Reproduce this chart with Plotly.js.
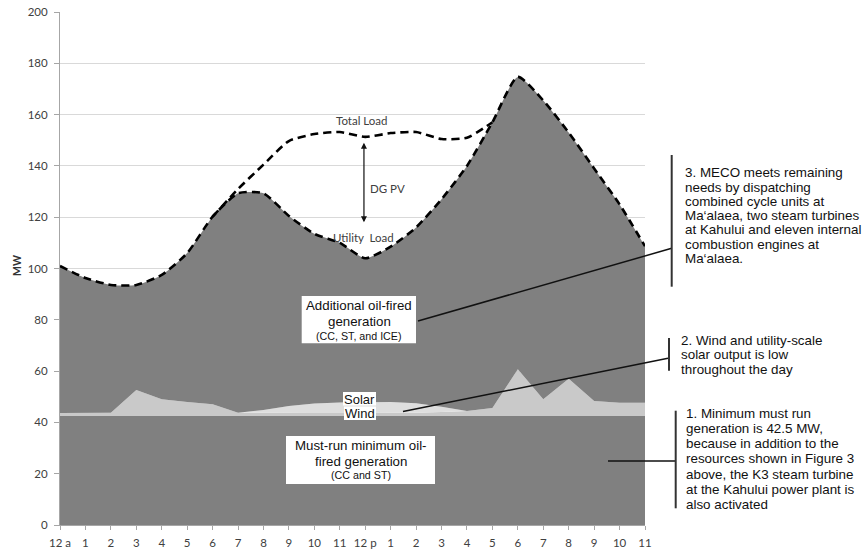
<!DOCTYPE html>
<html>
<head>
<meta charset="utf-8">
<script src="https://cdn.plot.ly/plotly-3.0.1.min.js"></script>
<style>html,body{margin:0;padding:0;background:#fff;}#chart{width:862px;height:550px;}</style>
</head>
<body>
<div id="chart"></div>
<script>
// ---- data ----
const hours = ['12 a','1','2','3','4','5','6','7','8','9','10','11','12 p','1','2','3','4','5','6','7','8','9','10','11'];
const utilityLoad = [101,96.3,93.6,93.6,97.5,106,120.2,129.3,129.3,120.5,113.5,110,104,108.5,116,127,140,157,174.7,165.5,153,139,125,108.7];
const totalLoad = [null,null,null,null,null,null,120.2,131,140.5,149.7,152.4,153.2,151.3,152.8,153.2,150.5,151,157,null,null,null,null,null,null];
const mustRun = [42.5,42.5,42.5,42.5,42.5,42.5,42.5,42.5,42.5,42.5,42.5,42.5,42.5,42.5,42.5,42.5,42.5,42.5,42.5,42.5,42.5,42.5,42.5,42.5];
const wind = [1.2,1.2,1.3,10.1,6.5,5.5,4.6,1.3,1.2,1.2,1.2,1.2,1.2,1.2,1.3,1.6,1.9,3.1,18.2,6.5,14.5,5.8,5.2,5.2];
const solar = [0,0,0,0,0,0,0,0,1.1,2.7,3.7,4.1,4.3,4.3,3.7,2,0,0,0,0,0,0,0,0];
const note3Lines = ['3. MECO meets remaining','needs by dispatching','combined cycle units at','Ma\u2018alaea, two steam turbines','at Kahului and eleven internal','combustion engines at','Ma\u2018alaea.'];
const note2Lines = ['2. Wind and utility-scale','solar output is low','throughout the day'];
const note1Lines = ['1. Minimum must run','generation is 42.5 MW,','because in addition to the','resources shown in Figure 3','above, the K3 steam turbine','at the Kahului power plant is','also activated'];
const addLines = ['Additional oil-fired','generation','(CC, ST, and ICE)'];
const mustLines = ['Must-run minimum oil-','fired generation','(CC and ST)'];

// ---- derived ----
const xIdx = hours.map((h,i)=>i);
const additional = utilityLoad.map((u,i)=>u - mustRun[i] - wind[i] - solar[i]);

// pixel helpers (plot area: x 60..645, y 12..525)
const L=60, R=645, T=12, B=525;
const px = x => (x-L)/(R-L);
const py = y => (B-y)/(B-T);

const DARK='#808080';
const traces = [
  {x:xIdx,y:mustRun,type:'scatter',mode:'lines',stackgroup:'s',line:{width:0},fillcolor:DARK,hoverinfo:'skip'},
  {x:xIdx,y:wind,type:'scatter',mode:'lines',stackgroup:'s',line:{width:0},fillcolor:'#c9c9c9',hoverinfo:'skip'},
  {x:xIdx,y:solar,type:'scatter',mode:'lines',stackgroup:'s',line:{width:0},fillcolor:'#dedede',hoverinfo:'skip'},
  {x:xIdx,y:additional,type:'scatter',mode:'lines',stackgroup:'s',line:{width:0,shape:'spline',smoothing:0.6},fillcolor:DARK,hoverinfo:'skip'},
  {x:xIdx,y:utilityLoad,type:'scatter',mode:'lines',line:{color:'#000',width:2.6,dash:'8px,5px',shape:'spline',smoothing:0.6}},
  {x:xIdx,y:totalLoad,type:'scatter',mode:'lines',line:{color:'#000',width:2.6,dash:'8px,5px',shape:'spline',smoothing:0.6}}
];

const shapes = [];
function rect(x0,y0,x1,y1){shapes.push({type:'rect',xref:'paper',yref:'paper',x0:px(x0),x1:px(x1),y0:py(y1),y1:py(y0),fillcolor:'#fff',line:{width:0},layer:'above'});}
function seg(x0,y0,x1,y1,c,w){shapes.push({type:'line',xref:'paper',yref:'paper',x0:px(x0),x1:px(x1),y0:py(y0),y1:py(y1),line:{color:c,width:w},layer:'above'});}
rect(301.7,296,416,343.3);
rect(286,436,435,484);
rect(343,392,376,405.5);
rect(344,406.5,376,420);
seg(418,321,671.7,248.3,'#111',1.5);
seg(403,411.5,668,358.3,'#111',1.5);
seg(608,461,675,461,'#111',1.5);
seg(671.7,155,671.7,286.7,'#333',2);
seg(669,338,669,370.7,'#333',2);
seg(675.7,410.7,675.7,508.3,'#333',2);

const ARIAL='Liberation Sans, Arial, sans-serif';
const CAL='Lato, Carlito, Calibri, sans-serif';
const annotations = [];
function txt(t,x,y,size,opts){
  annotations.push(Object.assign({text:t,xref:'paper',yref:'paper',x:px(x),y:py(y),showarrow:false,
    xanchor:'center',yanchor:'middle',font:{family:ARIAL,size:size,color:'#111'}},opts||{}));
}
note3Lines.forEach((t,i)=>txt(t,683.3,172.7+i*14.3,13.4,{xanchor:'left'}));
note2Lines.forEach((t,i)=>txt(t,679.3,340+i*14.7,13.4,{xanchor:'left'}));
note1Lines.forEach((t,i)=>txt(t,684,413.3+i*15.2,13.4,{xanchor:'left'}));
txt(addLines[0],359,305,13.3);
txt(addLines[1],359,321.7,13.3);
txt(addLines[2],359,335.7,10.7);
txt(mustLines[0],360.5,445.7,13.3);
txt(mustLines[1],360.5,461,13.3);
txt(mustLines[2],360.5,475,10.7);
txt('Solar',359.5,399,13);
txt('Wind',360,413,13);
// in-plot labels
txt('Total Load',361.7,120,11.5,{font:{family:CAL,size:11.5,color:'#404040'}});
txt('DG PV',387,188,11.5,{font:{family:CAL,size:11.5,color:'#404040'}});
txt('Utility\u00a0 Load',363,237,11.5,{font:{family:CAL,size:11.5,color:'#404040'}});
txt('MW',17,266,10.5,{textangle:-90,font:{family:CAL,size:10.5,color:'#333',weight:'bold'}});
// DG PV double arrow
annotations.push({x:11.95,y:149,ax:11.95,ay:117.4,xref:'x',yref:'y',axref:'x',ayref:'y',text:'',showarrow:true,
  arrowhead:2,startarrowhead:2,arrowside:'end+start',arrowsize:1,startarrowsize:1,arrowwidth:1.2,arrowcolor:'#111'});

const layout = {
  width:862,height:550,
  margin:{l:L,r:862-R,t:T,b:550-B,pad:0},
  paper_bgcolor:'#fff',plot_bgcolor:'#fff',
  showlegend:false,
  xaxis:{range:[0,23],tickvals:xIdx,ticktext:hours,showgrid:false,zeroline:false,
    showline:true,linecolor:'#a6a6a6',linewidth:1,ticks:'outside',ticklen:4,tickcolor:'#a6a6a6',
    tickfont:{family:CAL,size:11.5,color:'#404040'},ticklabelstandoff:3},
  yaxis:{range:[0,200],tickvals:[0,20,40,60,80,100,120,140,160,180,200],showgrid:true,gridcolor:'#d9d9d9',gridwidth:1,
    zeroline:false,showline:true,linecolor:'#a6a6a6',linewidth:1,ticks:'outside',ticklen:5,tickcolor:'#a6a6a6',
    tickfont:{family:CAL,size:11.5,color:'#404040'},ticklabelstandoff:4},
  shapes:shapes,
  annotations:annotations
};
Plotly.newPlot('chart',traces,layout,{displayModeBar:false,staticPlot:true});
</script>
</body>
</html>
